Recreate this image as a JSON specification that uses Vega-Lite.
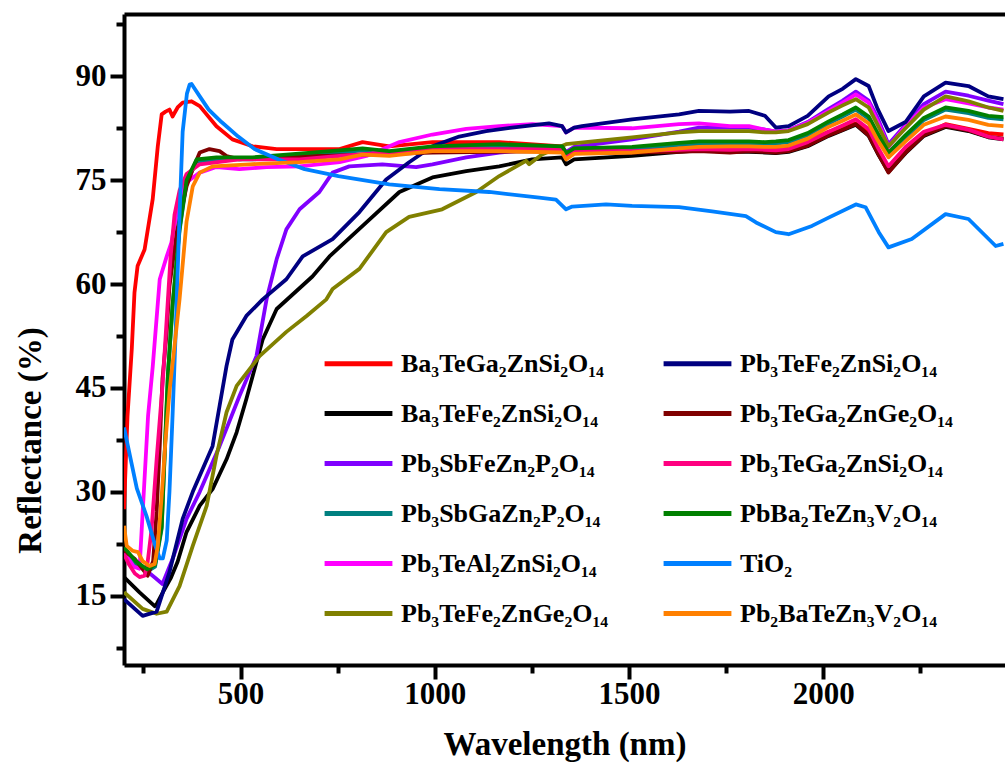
{
  "$schema": "https://vega.github.io/schema/vega-lite/v6.json",
  "width": 881,
  "height": 651,
  "autosize": "none",
  "padding": {"left": 124, "top": 14, "right": 0, "bottom": 100},
  "background": "white",
  "config": {"view": {"stroke": null}, "font": "Liberation Serif"},
  "datasets": {
    "names": [
      {"s": "R", "name": "Ba₃TeGa₂ZnSi₂O₁₄"},
      {"s": "K", "name": "Ba₃TeFe₂ZnSi₂O₁₄"},
      {"s": "P", "name": "Pb₃SbFeZn₂P₂O₁₄"},
      {"s": "T", "name": "Pb₃SbGaZn₂P₂O₁₄"},
      {"s": "M", "name": "Pb₃TeAl₂ZnSi₂O₁₄"},
      {"s": "O", "name": "Pb₃TeFe₂ZnGe₂O₁₄"},
      {"s": "N", "name": "Pb₃TeFe₂ZnSi₂O₁₄"},
      {"s": "D", "name": "Pb₃TeGa₂ZnGe₂O₁₄"},
      {"s": "Q", "name": "Pb₃TeGa₂ZnSi₂O₁₄"},
      {"s": "G", "name": "PbBa₂TeZn₃V₂O₁₄"},
      {"s": "W", "name": "TiO₂"},
      {"s": "Y", "name": "Pb₂BaTeZn₃V₂O₁₄"}
    ]
  },
  "data": {"values": [
    {"s":"R","x":200,"y":27.5},{"s":"R","x":209,"y":40.9},{"s":"R","x":220,"y":50.6},{"s":"R","x":227,"y":58.8},{"s":"R","x":235,"y":62.6},{"s":"R","x":253,"y":65},{"s":"R","x":274,"y":72.3},{"s":"R","x":287,"y":79.9},{"s":"R","x":297,"y":84.5},{"s":"R","x":307,"y":84.9},{"s":"R","x":317,"y":85.2},{"s":"R","x":325,"y":84.2},{"s":"R","x":338,"y":85.5},{"s":"R","x":351,"y":86.2},{"s":"R","x":374,"y":86.4},{"s":"R","x":395,"y":85.7},{"s":"R","x":438,"y":82.8},{"s":"R","x":479,"y":80.9},{"s":"R","x":531,"y":79.9},{"s":"R","x":593,"y":79.5},{"s":"R","x":652,"y":79.5},{"s":"R","x":755,"y":79.5},{"s":"R","x":814,"y":80.5},{"s":"R","x":883,"y":79.9},{"s":"R","x":994,"y":80.5},{"s":"R","x":1166,"y":80.5},{"s":"R","x":1328,"y":79.9},{"s":"R","x":1338,"y":79},{"s":"R","x":1359,"y":79.6},{"s":"R","x":1508,"y":79.5},{"s":"R","x":1629,"y":79.6},{"s":"R","x":1680,"y":79.9},{"s":"R","x":1760,"y":79.6},{"s":"R","x":1809,"y":79.5},{"s":"R","x":1850,"y":79.4},{"s":"R","x":1878,"y":79.5},{"s":"R","x":1911,"y":79.8},{"s":"R","x":1960,"y":80.7},{"s":"R","x":2014,"y":82},{"s":"R","x":2050,"y":82.6},{"s":"R","x":2084,"y":83.2},{"s":"R","x":2117,"y":81.8},{"s":"R","x":2140,"y":79.3},{"s":"R","x":2168,"y":76.6},{"s":"R","x":2212,"y":79.5},{"s":"R","x":2259,"y":81.6},{"s":"R","x":2315,"y":83.1},{"s":"R","x":2374,"y":82.4},{"s":"R","x":2425,"y":81.8},{"s":"R","x":2464,"y":81.6},

    {"s":"K","x":200,"y":17.7},{"s":"K","x":240,"y":15.5},{"s":"K","x":279,"y":13.5},{"s":"K","x":284,"y":13.8},{"s":"K","x":300,"y":15.5},{"s":"K","x":320,"y":17.5},{"s":"K","x":338,"y":19.9},{"s":"K","x":361,"y":24.2},{"s":"K","x":395,"y":28},{"s":"K","x":428,"y":30.4},{"s":"K","x":464,"y":34.7},{"s":"K","x":490,"y":38.6},{"s":"K","x":515,"y":43.4},{"s":"K","x":557,"y":52},{"s":"K","x":593,"y":56.4},{"s":"K","x":644,"y":59},{"s":"K","x":685,"y":61.1},{"s":"K","x":729,"y":64},{"s":"K","x":824,"y":68.9},{"s":"K","x":909,"y":73.3},{"s":"K","x":994,"y":75.4},{"s":"K","x":1081,"y":76.3},{"s":"K","x":1166,"y":77},{"s":"K","x":1251,"y":78},{"s":"K","x":1328,"y":78.3},{"s":"K","x":1338,"y":77.3},{"s":"K","x":1359,"y":78},{"s":"K","x":1508,"y":78.5},{"s":"K","x":1629,"y":79.1},{"s":"K","x":1680,"y":79.3},{"s":"K","x":1760,"y":79.1},{"s":"K","x":1809,"y":79.1},{"s":"K","x":1850,"y":79},{"s":"K","x":1878,"y":78.9},{"s":"K","x":1911,"y":79.1},{"s":"K","x":1960,"y":79.9},{"s":"K","x":2014,"y":81.4},{"s":"K","x":2050,"y":82.2},{"s":"K","x":2084,"y":83},{"s":"K","x":2117,"y":81.4},{"s":"K","x":2140,"y":78.9},{"s":"K","x":2168,"y":76.2},{"s":"K","x":2212,"y":78.9},{"s":"K","x":2259,"y":81.4},{"s":"K","x":2315,"y":82.7},{"s":"K","x":2374,"y":82.1},{"s":"K","x":2425,"y":81.2},{"s":"K","x":2464,"y":80.9},

    {"s":"P","x":200,"y":21},{"s":"P","x":230,"y":19.6},{"s":"P","x":258,"y":18.6},{"s":"P","x":280,"y":17.6},{"s":"P","x":299,"y":16.7},{"s":"P","x":325,"y":20.3},{"s":"P","x":361,"y":26.1},{"s":"P","x":395,"y":30},{"s":"P","x":446,"y":36.6},{"s":"P","x":497,"y":43.8},{"s":"P","x":541,"y":49.6},{"s":"P","x":567,"y":57.8},{"s":"P","x":593,"y":63.6},{"s":"P","x":618,"y":67.9},{"s":"P","x":652,"y":70.8},{"s":"P","x":703,"y":73.3},{"s":"P","x":737,"y":76.1},{"s":"P","x":780,"y":77},{"s":"P","x":865,"y":77.3},{"s":"P","x":952,"y":76.9},{"s":"P","x":994,"y":77.3},{"s":"P","x":1081,"y":78.3},{"s":"P","x":1166,"y":79},{"s":"P","x":1328,"y":79.8},{"s":"P","x":1338,"y":79.1},{"s":"P","x":1359,"y":79.8},{"s":"P","x":1508,"y":80.9},{"s":"P","x":1629,"y":82},{"s":"P","x":1680,"y":82.6},{"s":"P","x":1760,"y":82.6},{"s":"P","x":1809,"y":82.6},{"s":"P","x":1850,"y":82.3},{"s":"P","x":1878,"y":82},{"s":"P","x":1911,"y":82.2},{"s":"P","x":1960,"y":83.4},{"s":"P","x":2014,"y":85.3},{"s":"P","x":2050,"y":86.5},{"s":"P","x":2084,"y":87.8},{"s":"P","x":2117,"y":86.5},{"s":"P","x":2140,"y":84},{"s":"P","x":2168,"y":80.2},{"s":"P","x":2212,"y":83},{"s":"P","x":2259,"y":86},{"s":"P","x":2315,"y":87.8},{"s":"P","x":2374,"y":87.2},{"s":"P","x":2425,"y":86.5},{"s":"P","x":2464,"y":86},

    {"s":"T","x":200,"y":21.7},{"s":"T","x":230,"y":19.7},{"s":"T","x":260,"y":18.5},{"s":"T","x":280,"y":19.2},{"s":"T","x":297,"y":24.7},{"s":"T","x":305,"y":35.7},{"s":"T","x":313,"y":46.7},{"s":"T","x":325,"y":56.7},{"s":"T","x":343,"y":67.7},{"s":"T","x":361,"y":74.7},{"s":"T","x":387,"y":77.7},{"s":"T","x":438,"y":78},{"s":"T","x":531,"y":78},{"s":"T","x":618,"y":78.4},{"s":"T","x":755,"y":79},{"s":"T","x":814,"y":79.3},{"s":"T","x":883,"y":78.9},{"s":"T","x":994,"y":79.6},{"s":"T","x":1166,"y":79.9},{"s":"T","x":1328,"y":79.6},{"s":"T","x":1338,"y":78.6},{"s":"T","x":1359,"y":79.3},{"s":"T","x":1508,"y":79.5},{"s":"T","x":1629,"y":80.1},{"s":"T","x":1680,"y":80.3},{"s":"T","x":1760,"y":80.3},{"s":"T","x":1809,"y":80.3},{"s":"T","x":1850,"y":80.2},{"s":"T","x":1878,"y":80.3},{"s":"T","x":1911,"y":80.5},{"s":"T","x":1960,"y":81.5},{"s":"T","x":2014,"y":83.2},{"s":"T","x":2050,"y":84.2},{"s":"T","x":2084,"y":85.2},{"s":"T","x":2117,"y":83.9},{"s":"T","x":2140,"y":81.5},{"s":"T","x":2168,"y":78.7},{"s":"T","x":2212,"y":81.2},{"s":"T","x":2259,"y":83.7},{"s":"T","x":2315,"y":85.2},{"s":"T","x":2374,"y":84.7},{"s":"T","x":2425,"y":84},{"s":"T","x":2464,"y":83.8},

    {"s":"M","x":200,"y":21.3},{"s":"M","x":225,"y":19.2},{"s":"M","x":240,"y":18.9},{"s":"M","x":246,"y":25},{"s":"M","x":256,"y":35},{"s":"M","x":262,"y":41},{"s":"M","x":274,"y":48.1},{"s":"M","x":292,"y":60.7},{"s":"M","x":310,"y":64},{"s":"M","x":322,"y":66},{"s":"M","x":330,"y":68.5},{"s":"M","x":343,"y":72.3},{"s":"M","x":361,"y":74.7},{"s":"M","x":395,"y":76.1},{"s":"M","x":438,"y":76.9},{"s":"M","x":497,"y":76.6},{"s":"M","x":567,"y":76.9},{"s":"M","x":652,"y":77},{"s":"M","x":755,"y":77.6},{"s":"M","x":824,"y":78.5},{"s":"M","x":909,"y":80.5},{"s":"M","x":994,"y":81.6},{"s":"M","x":1081,"y":82.4},{"s":"M","x":1166,"y":82.8},{"s":"M","x":1251,"y":83.1},{"s":"M","x":1328,"y":82.8},{"s":"M","x":1338,"y":81.9},{"s":"M","x":1359,"y":82.6},{"s":"M","x":1508,"y":82.5},{"s":"M","x":1629,"y":83.1},{"s":"M","x":1680,"y":83.2},{"s":"M","x":1760,"y":82.8},{"s":"M","x":1809,"y":82.8},{"s":"M","x":1850,"y":82.3},{"s":"M","x":1878,"y":82},{"s":"M","x":1911,"y":82.2},{"s":"M","x":1960,"y":83.3},{"s":"M","x":2014,"y":85},{"s":"M","x":2050,"y":86.2},{"s":"M","x":2084,"y":87.4},{"s":"M","x":2117,"y":86.2},{"s":"M","x":2140,"y":83.5},{"s":"M","x":2168,"y":79.8},{"s":"M","x":2212,"y":82.8},{"s":"M","x":2259,"y":85.5},{"s":"M","x":2315,"y":86.7},{"s":"M","x":2374,"y":86.1},{"s":"M","x":2425,"y":85.5},{"s":"M","x":2464,"y":85.2},

    {"s":"O","x":200,"y":15.5},{"s":"O","x":248,"y":13.1},{"s":"O","x":284,"y":12.4},{"s":"O","x":310,"y":12.7},{"s":"O","x":343,"y":16.4},{"s":"O","x":377,"y":22.2},{"s":"O","x":413,"y":28},{"s":"O","x":438,"y":35.2},{"s":"O","x":464,"y":41.5},{"s":"O","x":490,"y":45.3},{"s":"O","x":549,"y":49.6},{"s":"O","x":618,"y":53.1},{"s":"O","x":670,"y":55.4},{"s":"O","x":721,"y":57.8},{"s":"O","x":737,"y":59.3},{"s":"O","x":806,"y":62.2},{"s":"O","x":875,"y":67.5},{"s":"O","x":934,"y":69.7},{"s":"O","x":1019,"y":70.8},{"s":"O","x":1107,"y":73.3},{"s":"O","x":1166,"y":75.6},{"s":"O","x":1235,"y":77.8},{"s":"O","x":1243,"y":77.3},{"s":"O","x":1276,"y":78.7},{"s":"O","x":1338,"y":80.2},{"s":"O","x":1508,"y":81.2},{"s":"O","x":1629,"y":81.9},{"s":"O","x":1680,"y":82.1},{"s":"O","x":1760,"y":82.1},{"s":"O","x":1809,"y":82.1},{"s":"O","x":1850,"y":81.9},{"s":"O","x":1878,"y":81.9},{"s":"O","x":1911,"y":82.1},{"s":"O","x":1960,"y":83.1},{"s":"O","x":2014,"y":84.8},{"s":"O","x":2050,"y":85.8},{"s":"O","x":2084,"y":86.7},{"s":"O","x":2117,"y":85.5},{"s":"O","x":2140,"y":83},{"s":"O","x":2168,"y":79.9},{"s":"O","x":2212,"y":82.5},{"s":"O","x":2259,"y":85.2},{"s":"O","x":2315,"y":87.1},{"s":"O","x":2374,"y":86.4},{"s":"O","x":2425,"y":85.5},{"s":"O","x":2464,"y":85},

    {"s":"N","x":200,"y":14.5},{"s":"N","x":248,"y":12.1},{"s":"N","x":284,"y":12.7},{"s":"N","x":317,"y":18.4},{"s":"N","x":351,"y":26.1},{"s":"N","x":377,"y":30},{"s":"N","x":428,"y":36.6},{"s":"N","x":446,"y":42.4},{"s":"N","x":464,"y":48.2},{"s":"N","x":479,"y":52},{"s":"N","x":515,"y":55.4},{"s":"N","x":557,"y":57.8},{"s":"N","x":618,"y":60.7},{"s":"N","x":660,"y":64},{"s":"N","x":737,"y":66.5},{"s":"N","x":806,"y":70.4},{"s":"N","x":875,"y":75.1},{"s":"N","x":934,"y":77.6},{"s":"N","x":994,"y":79.9},{"s":"N","x":1063,"y":81.3},{"s":"N","x":1132,"y":82.1},{"s":"N","x":1199,"y":82.6},{"s":"N","x":1294,"y":83.2},{"s":"N","x":1328,"y":82.8},{"s":"N","x":1338,"y":81.9},{"s":"N","x":1359,"y":82.6},{"s":"N","x":1379,"y":82.8},{"s":"N","x":1508,"y":83.8},{"s":"N","x":1629,"y":84.5},{"s":"N","x":1680,"y":85},{"s":"N","x":1760,"y":84.9},{"s":"N","x":1809,"y":85},{"s":"N","x":1850,"y":84.3},{"s":"N","x":1878,"y":82.6},{"s":"N","x":1911,"y":82.8},{"s":"N","x":1960,"y":84.3},{"s":"N","x":2014,"y":87.1},{"s":"N","x":2050,"y":88.2},{"s":"N","x":2084,"y":89.6},{"s":"N","x":2117,"y":88.6},{"s":"N","x":2140,"y":85.3},{"s":"N","x":2168,"y":82.1},{"s":"N","x":2212,"y":83.4},{"s":"N","x":2259,"y":87.1},{"s":"N","x":2315,"y":89.1},{"s":"N","x":2374,"y":88.6},{"s":"N","x":2425,"y":87.1},{"s":"N","x":2464,"y":86.7},

    {"s":"D","x":200,"y":21.5},{"s":"D","x":228,"y":20.3},{"s":"D","x":261,"y":17.9},{"s":"D","x":275,"y":20},{"s":"D","x":284,"y":27.1},{"s":"D","x":292,"y":36.6},{"s":"D","x":299,"y":46.3},{"s":"D","x":310,"y":53.1},{"s":"D","x":317,"y":59.7},{"s":"D","x":336,"y":67.5},{"s":"D","x":361,"y":74.1},{"s":"D","x":377,"y":76.6},{"s":"D","x":395,"y":79},{"s":"D","x":420,"y":79.5},{"s":"D","x":446,"y":79.2},{"s":"D","x":464,"y":78.5},{"s":"D","x":497,"y":78},{"s":"D","x":567,"y":78.3},{"s":"D","x":755,"y":78.6},{"s":"D","x":994,"y":79},{"s":"D","x":1328,"y":79.2},{"s":"D","x":1338,"y":78.3},{"s":"D","x":1359,"y":79},{"s":"D","x":1508,"y":79},{"s":"D","x":1629,"y":79.1},{"s":"D","x":1680,"y":79.2},{"s":"D","x":1760,"y":79},{"s":"D","x":1809,"y":79.2},{"s":"D","x":1850,"y":79.1},{"s":"D","x":1878,"y":79},{"s":"D","x":1911,"y":79.2},{"s":"D","x":1960,"y":80},{"s":"D","x":2014,"y":81.5},{"s":"D","x":2050,"y":82.3},{"s":"D","x":2084,"y":83.1},{"s":"D","x":2117,"y":81.5},{"s":"D","x":2140,"y":79},{"s":"D","x":2168,"y":76.1},{"s":"D","x":2212,"y":79},{"s":"D","x":2259,"y":81.5},{"s":"D","x":2315,"y":82.8},{"s":"D","x":2374,"y":82.2},{"s":"D","x":2425,"y":81.3},{"s":"D","x":2464,"y":81},

    {"s":"Q","x":200,"y":21},{"s":"Q","x":213,"y":19.5},{"s":"Q","x":228,"y":18.2},{"s":"Q","x":240,"y":17.7},{"s":"Q","x":253,"y":17.9},{"s":"Q","x":261,"y":19.9},{"s":"Q","x":271,"y":24.6},{"s":"Q","x":284,"y":34.7},{"s":"Q","x":300,"y":46},{"s":"Q","x":310,"y":55},{"s":"Q","x":320,"y":64},{"s":"Q","x":330,"y":70},{"s":"Q","x":343,"y":73.5},{"s":"Q","x":361,"y":75.9},{"s":"Q","x":395,"y":77.3},{"s":"Q","x":497,"y":78},{"s":"Q","x":652,"y":78},{"s":"Q","x":755,"y":78.5},{"s":"Q","x":994,"y":79.5},{"s":"Q","x":1328,"y":79.5},{"s":"Q","x":1338,"y":78.5},{"s":"Q","x":1359,"y":79.3},{"s":"Q","x":1508,"y":79.2},{"s":"Q","x":1629,"y":79.4},{"s":"Q","x":1680,"y":79.5},{"s":"Q","x":1760,"y":79.4},{"s":"Q","x":1809,"y":79.5},{"s":"Q","x":1850,"y":79.4},{"s":"Q","x":1878,"y":79.3},{"s":"Q","x":1911,"y":79.5},{"s":"Q","x":1960,"y":80.5},{"s":"Q","x":2014,"y":82},{"s":"Q","x":2050,"y":82.9},{"s":"Q","x":2084,"y":83.8},{"s":"Q","x":2117,"y":82.4},{"s":"Q","x":2140,"y":79.8},{"s":"Q","x":2168,"y":77},{"s":"Q","x":2212,"y":79.8},{"s":"Q","x":2259,"y":82},{"s":"Q","x":2315,"y":83},{"s":"Q","x":2374,"y":82.3},{"s":"Q","x":2425,"y":81.3},{"s":"Q","x":2464,"y":80.9},

    {"s":"G","x":200,"y":22},{"s":"G","x":230,"y":20},{"s":"G","x":260,"y":18.8},{"s":"G","x":280,"y":19.5},{"s":"G","x":297,"y":25},{"s":"G","x":305,"y":36},{"s":"G","x":313,"y":47},{"s":"G","x":325,"y":57},{"s":"G","x":343,"y":68},{"s":"G","x":361,"y":75},{"s":"G","x":387,"y":78},{"s":"G","x":438,"y":78.3},{"s":"G","x":531,"y":78.3},{"s":"G","x":618,"y":78.7},{"s":"G","x":755,"y":79.3},{"s":"G","x":814,"y":79.6},{"s":"G","x":883,"y":79.2},{"s":"G","x":994,"y":79.9},{"s":"G","x":1166,"y":80.2},{"s":"G","x":1328,"y":79.9},{"s":"G","x":1338,"y":78.9},{"s":"G","x":1359,"y":79.6},{"s":"G","x":1508,"y":79.8},{"s":"G","x":1629,"y":80.4},{"s":"G","x":1680,"y":80.6},{"s":"G","x":1760,"y":80.6},{"s":"G","x":1809,"y":80.6},{"s":"G","x":1850,"y":80.5},{"s":"G","x":1878,"y":80.6},{"s":"G","x":1911,"y":80.8},{"s":"G","x":1960,"y":81.8},{"s":"G","x":2014,"y":83.5},{"s":"G","x":2050,"y":84.5},{"s":"G","x":2084,"y":85.5},{"s":"G","x":2117,"y":84.2},{"s":"G","x":2140,"y":81.8},{"s":"G","x":2168,"y":79},{"s":"G","x":2212,"y":81.5},{"s":"G","x":2259,"y":84},{"s":"G","x":2315,"y":85.5},{"s":"G","x":2374,"y":85},{"s":"G","x":2425,"y":84.3},{"s":"G","x":2464,"y":84.1},

    {"s":"W","x":200,"y":39.3},{"s":"W","x":233,"y":30.5},{"s":"W","x":258,"y":26.5},{"s":"W","x":279,"y":22.5},{"s":"W","x":292,"y":20.4},{"s":"W","x":300,"y":20.4},{"s":"W","x":310,"y":23},{"s":"W","x":317,"y":30},{"s":"W","x":325,"y":41},{"s":"W","x":333,"y":53},{"s":"W","x":343,"y":70},{"s":"W","x":351,"y":82},{"s":"W","x":362,"y":87.5},{"s":"W","x":369,"y":88.8},{"s":"W","x":374,"y":88.9},{"s":"W","x":382,"y":88.2},{"s":"W","x":395,"y":87.1},{"s":"W","x":418,"y":85.2},{"s":"W","x":451,"y":83.4},{"s":"W","x":494,"y":81.3},{"s":"W","x":536,"y":79.5},{"s":"W","x":598,"y":78},{"s":"W","x":665,"y":76.6},{"s":"W","x":752,"y":75.6},{"s":"W","x":883,"y":74.4},{"s":"W","x":1012,"y":73.7},{"s":"W","x":1140,"y":73.3},{"s":"W","x":1269,"y":72.5},{"s":"W","x":1312,"y":72.2},{"s":"W","x":1338,"y":70.8},{"s":"W","x":1354,"y":71.2},{"s":"W","x":1441,"y":71.5},{"s":"W","x":1508,"y":71.3},{"s":"W","x":1629,"y":71.1},{"s":"W","x":1714,"y":70.5},{"s":"W","x":1801,"y":69.8},{"s":"W","x":1827,"y":68.9},{"s":"W","x":1878,"y":67.5},{"s":"W","x":1911,"y":67.2},{"s":"W","x":1971,"y":68.4},{"s":"W","x":2014,"y":69.6},{"s":"W","x":2084,"y":71.5},{"s":"W","x":2109,"y":71.1},{"s":"W","x":2143,"y":67.5},{"s":"W","x":2168,"y":65.3},{"s":"W","x":2228,"y":66.5},{"s":"W","x":2315,"y":70.1},{"s":"W","x":2374,"y":69.4},{"s":"W","x":2444,"y":65.5},{"s":"W","x":2464,"y":65.8},

    {"s":"Y","x":200,"y":25.1},{"s":"Y","x":207,"y":22.2},{"s":"Y","x":222,"y":21.5},{"s":"Y","x":236,"y":21.3},{"s":"Y","x":248,"y":20},{"s":"Y","x":266,"y":19.3},{"s":"Y","x":279,"y":19.6},{"s":"Y","x":287,"y":22.2},{"s":"Y","x":297,"y":29.4},{"s":"Y","x":307,"y":37.5},{"s":"Y","x":318,"y":45},{"s":"Y","x":328,"y":50},{"s":"Y","x":343,"y":57.8},{"s":"Y","x":361,"y":69},{"s":"Y","x":377,"y":74.1},{"s":"Y","x":395,"y":76.1},{"s":"Y","x":428,"y":77},{"s":"Y","x":523,"y":77.3},{"s":"Y","x":652,"y":77.6},{"s":"Y","x":755,"y":78},{"s":"Y","x":814,"y":78.7},{"s":"Y","x":883,"y":78.5},{"s":"Y","x":994,"y":79.2},{"s":"Y","x":1166,"y":79.2},{"s":"Y","x":1328,"y":79},{"s":"Y","x":1338,"y":78},{"s":"Y","x":1359,"y":78.8},{"s":"Y","x":1508,"y":79},{"s":"Y","x":1629,"y":79.6},{"s":"Y","x":1680,"y":79.8},{"s":"Y","x":1760,"y":79.9},{"s":"Y","x":1809,"y":79.9},{"s":"Y","x":1850,"y":79.8},{"s":"Y","x":1878,"y":79.8},{"s":"Y","x":1911,"y":80},{"s":"Y","x":1960,"y":81},{"s":"Y","x":2014,"y":82.7},{"s":"Y","x":2050,"y":83.6},{"s":"Y","x":2084,"y":84.5},{"s":"Y","x":2117,"y":83.2},{"s":"Y","x":2140,"y":80.8},{"s":"Y","x":2168,"y":78.3},{"s":"Y","x":2212,"y":80.6},{"s":"Y","x":2259,"y":83},{"s":"Y","x":2315,"y":84.2},{"s":"Y","x":2374,"y":83.7},{"s":"Y","x":2425,"y":83},{"s":"Y","x":2464,"y":82.8}
  ]},
  "transform": [
    {"lookup": "s", "from": {"data": {"name": "names"}, "key": "s", "fields": ["name"]}}
  ],
  "layer": [
    {
      "mark": {"type": "line", "strokeWidth": 3.8, "clip": true, "strokeJoin": "round"},
      "encoding": {
        "x": {
          "field": "x", "type": "quantitative",
          "scale": {"domain": [200, 2468], "nice": false, "zero": false},
          "axis": {
            "orient": "bottom",
            "title": "Wavelength (nm)",
            "values": [250, 500, 750, 1000, 1250, 1500, 1750, 2000, 2250],
            "format": "d",
            "labelExpr": "datum.value % 500 === 0 ? datum.label : ''",
            "tickSize": {"condition": {"test": "datum.value % 500 === 0", "value": 14}, "value": 8},
            "tickWidth": 4, "tickColor": "black",
            "domainWidth": 4, "domainColor": "black",
            "grid": false,
            "labelFont": "Liberation Serif", "labelFontSize": 31, "labelFontWeight": "bold", "labelColor": "black",
            "labelPadding": 0, "labelFlush": false,
            "titleFont": "Liberation Serif", "titleFontSize": 33, "titleFontWeight": "bold", "titleColor": "black",
            "titlePadding": 19
          }
        },
        "y": {
          "field": "y", "type": "quantitative",
          "scale": {"domain": [5, 99], "nice": false, "zero": false},
          "axis": {
            "title": "Reflectance (%)",
            "values": [7.5, 15, 22.5, 30, 37.5, 45, 52.5, 60, 67.5, 75, 82.5, 90, 97.5],
            "labelExpr": "datum.value % 15 === 0 ? datum.label : ''",
            "tickSize": {"condition": {"test": "datum.value % 15 === 0", "value": 14}, "value": 8},
            "tickWidth": 4, "tickColor": "black",
            "domainWidth": 4, "domainColor": "black",
            "grid": false,
            "labelFont": "Liberation Serif", "labelFontSize": 31, "labelFontWeight": "bold", "labelColor": "black",
            "labelPadding": 4, "labelFlush": false,
            "titleFont": "Liberation Serif", "titleFontSize": 33, "titleFontWeight": "bold", "titleColor": "black",
            "titlePadding": 28, "titleY": 426
          }
        },
        "color": {
          "field": "name", "type": "nominal",
          "scale": {
            "domain": ["Ba₃TeGa₂ZnSi₂O₁₄", "Ba₃TeFe₂ZnSi₂O₁₄", "Pb₃SbFeZn₂P₂O₁₄", "Pb₃SbGaZn₂P₂O₁₄", "Pb₃TeAl₂ZnSi₂O₁₄", "Pb₃TeFe₂ZnGe₂O₁₄", "Pb₃TeFe₂ZnSi₂O₁₄", "Pb₃TeGa₂ZnGe₂O₁₄", "Pb₃TeGa₂ZnSi₂O₁₄", "PbBa₂TeZn₃V₂O₁₄", "TiO₂", "Pb₂BaTeZn₃V₂O₁₄"],
            "range": ["#ff0000", "#000000", "#8000ff", "#008080", "#ff00ff", "#808000", "#000080", "#800000", "#ff0080", "#008000", "#0080ff", "#ff8000"]
          },
          "legend": {
            "orient": "none", "legendX": 198, "legendY": 313,
            "columns": 2, "columnPadding": 44, "rowPadding": 0,
            "title": null,
            "symbolType": "stroke", "symbolSize": 4600, "symbolStrokeWidth": 5,
            "labelFont": "Liberation Serif", "labelFontSize": 26, "labelFontWeight": "bold", "labelColor": "black",
            "labelLimit": 0, "labelOffset": 6
          }
        }
      }
    },
    {
      "mark": {"type": "line", "opacity": 0},
      "encoding": {
        "x": {
          "field": "x", "type": "quantitative",
          "axis": {"orient": "top", "title": null, "labels": false, "ticks": false, "grid": false, "domainWidth": 4, "domainColor": "black"}
        },
        "y": {"field": "y", "type": "quantitative"}
      }
    }
  ],
  "resolve": {"axis": {"x": "independent"}}
}
